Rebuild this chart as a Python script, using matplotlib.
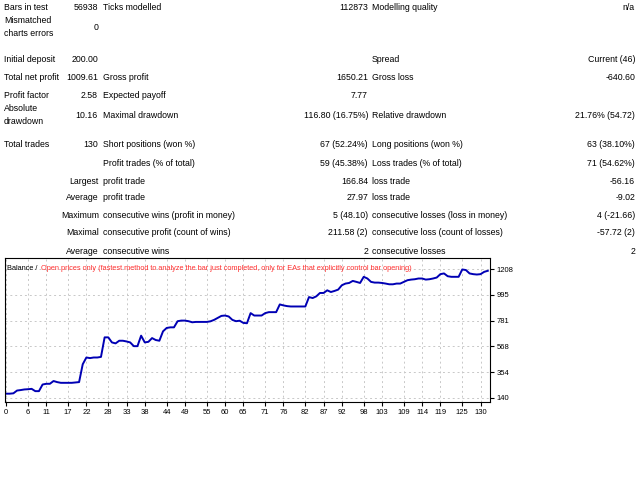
import matplotlib

matplotlib.use("Agg")
import matplotlib.pyplot as plt

plt.rcParams["font.family"] = "Liberation Sans"

# report table rows: (y px, label1, value1, label2, value2, label3, value3)
rows = [
    (7, "Bars in test", "56938", "Ticks modelled", "112873", "Modelling quality", "n/a"),
    (27, "Mismatched\ncharts errors", "0", "", "", "", ""),
    (60, "Initial deposit", "200.00", "", "", "Spread", "Current (46)"),
    (78, "Total net profit", "1009.61", "Gross profit", "1650.21", "Gross loss", "-640.60"),
    (96, "Profit factor", "2.58", "Expected payoff", "7.77", "", ""),
    (115, "Absolute\ndrawdown", "10.16", "Maximal drawdown", "116.80 (16.75%)", "Relative drawdown", "21.76% (54.72)"),
    (145, "Total trades", "130", "Short positions (won %)", "67 (52.24%)", "Long positions (won %)", "63 (38.10%)"),
    (163, "", "", "Profit trades (% of total)", "59 (45.38%)", "Loss trades (% of total)", "71 (54.62%)"),
]
# rows where the first word is right aligned against the second column
sub_rows = [
    (181, "Largest", "profit trade", "166.84", "loss trade", "-56.16"),
    (198, "Average", "profit trade", "27.97", "loss trade", "-9.02"),
    (216, "Maximum", "consecutive wins (profit in money)", "5 (48.10)", "consecutive losses (loss in money)", "4 (-21.66)"),
    (233, "Maximal", "consecutive profit (count of wins)", "211.58 (2)", "consecutive loss (count of losses)", "-57.72 (2)"),
    (251, "Average", "consecutive wins", "2", "consecutive losses", "2"),
]

balance = [
    175, 175, 178, 201, 205, 210, 212, 215, 196, 196, 251, 257, 257, 280, 271,
    265, 265, 265, 265, 268, 271, 419, 475, 470, 475, 475, 480, 642, 642, 600,
    592, 614, 614, 608, 600, 569, 569, 656, 600, 605, 636, 620, 614, 692, 720,
    725, 725, 776, 781, 781, 776, 767, 770, 770, 770, 770, 775, 787, 803, 820,
    823, 815, 787, 776, 780, 762, 759, 843, 823, 823, 823, 843, 851, 851, 851,
    915, 907, 901, 898, 898, 898, 898, 898, 976, 968, 982, 1010, 1010, 1032, 1018,
    1027, 1038, 1074, 1088, 1093, 1110, 1102, 1093, 1144, 1130, 1102, 1096, 1096, 1093, 1088,
    1082, 1082, 1088, 1088, 1102, 1116, 1121, 1124, 1130, 1130, 1121, 1124, 1130, 1138, 1166,
    1172, 1149, 1144, 1144, 1144, 1205, 1200, 1172, 1166, 1163, 1166, 1185, 1194,
]
x_ticks = [0, 6, 11, 17, 22, 28, 33, 38, 44, 49, 55, 60, 65, 71, 76, 82, 87, 92, 98, 103, 109, 114, 119, 125, 130]
y_ticks = [140, 354, 568, 781, 995, 1208]

W, H = 640, 480
fig = plt.figure(figsize=(6.4, 4.8), dpi=100)
fs = 6.3


def put(x, y, s, ha="left"):
    if s:
        fig.text(x / W, 1 - y / H, s, ha=ha, va="center", fontsize=fs, linespacing=1.6)


for y, l1, v1, l2, v2, l3, v3 in rows:
    put(4, y, l1)
    put(98, y, v1, "right")
    put(103, y, l2)
    put(368, y, v2, "right")
    put(372, y, l3)
    put(635, y, v3, "right")
for y, w, l2, v2, l3, v3 in sub_rows:
    put(99, y, w, "right")
    put(103, y, l2)
    put(368, y, v2, "right")
    put(372, y, l3)
    put(635, y, v3, "right")

ax = fig.add_axes([5 / W, 78 / H, 485 / W, 144 / H])
ax.plot(range(len(balance)), balance, color="#0000b4", lw=1.4)
ax.set_xlim(-0.3, 132.6)
ax.set_ylim(106, 1300)
ax.set_xticks(x_ticks)
ax.set_yticks(y_ticks)
ax.yaxis.tick_right()
ax.tick_params(labelsize=5.5, length=3, pad=2)
ax.grid(True, color="#c8c8c8", ls=(0, (2, 3)), lw=0.7)
for s in ax.spines.values():
    s.set_linewidth(0.8)
t = ax.text(0.004, 0.95, "Balance / ", transform=ax.transAxes, fontsize=5.3, va="top")
ax.annotate("Open prices only (fastest method to analyze the bar just completed, only for EAs that explicitly control bar opening)",
            xy=(1, 1), xycoords=t, xytext=(1, 0), textcoords="offset points",
            fontsize=5.3, va="top", ha="left", color="#ff3030")

fig.savefig("out.png", dpi=100)
